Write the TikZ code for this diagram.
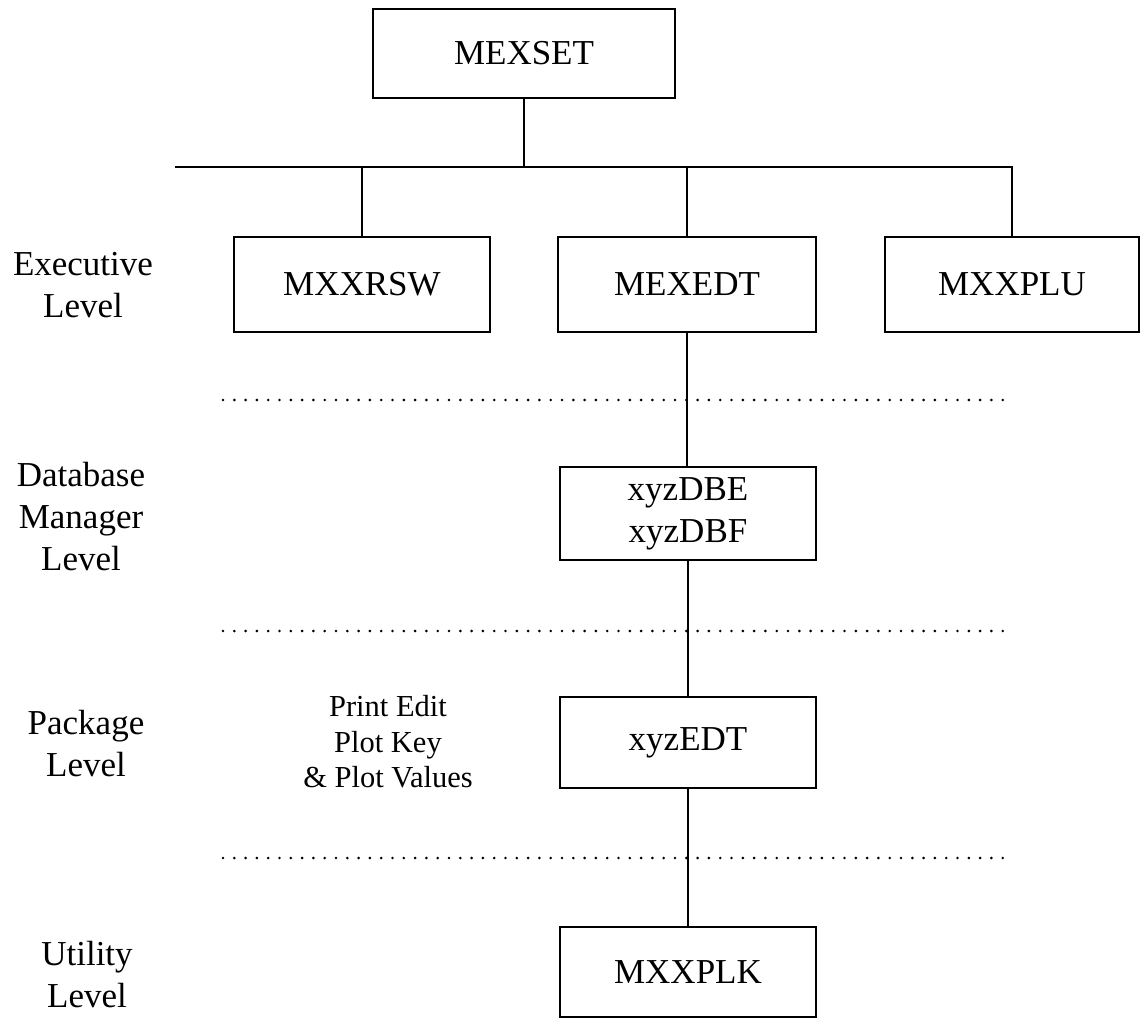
\documentclass[tikz,border=0pt]{standalone}
\usepackage{fontspec}
\setmainfont{Liberation Serif}
\begin{document}
\begin{tikzpicture}[x=1pt,y=-1pt,
  box/.style={draw, line width=1.8pt, inner sep=0pt, minimum width=256pt, minimum height=92pt, font=\fontsize{35}{42}\selectfont, align=center},
  lvl/.style={align=center, font=\fontsize{35}{42}\selectfont, inner sep=0pt},
  note/.style={align=center, font=\fontsize{30.5}{35.5}\selectfont, inner sep=0pt},
  conn/.style={line width=1.3pt},
  dotline/.style={line width=2.9pt, line cap=round, dash pattern=on 0pt off 11.3pt}]
\useasboundingbox (0,0) rectangle (1140,1019);

% boxes
\node[box, minimum width=302pt, minimum height=89pt] (mexset) at (524,53.5) {MEXSET};
\node[box, minimum height=95pt] (mxxrsw) at (362,284.5) {MXXRSW};
\node[box, minimum width=258pt, minimum height=95pt] (mexedt) at (687,284.5) {MEXEDT};
\node[box, minimum width=254pt, minimum height=95pt] (mxxplu) at (1012,284.5) {MXXPLU};
\node[box, minimum height=93pt] (db) at (688,513.5) {xyzDBE\\xyzDBF};
\node[box, minimum height=91pt] (edt) at (688,742.5) {xyzEDT};
\node[box, minimum height=90pt] (plk) at (688,972) {MXXPLK};

% level labels
\node[lvl] (l1) at (83,285) {Executive\\Level};
\node[lvl] (l2) at (81,517) {Database\\Manager\\Level};
\node[lvl] (l3) at (86,744) {Package\\Level};
\node[lvl] (l4) at (87,975) {Utility\\Level};
\node[note] (pe) at (388,742) {Print Edit\\Plot Key\\\& Plot Values};

% tree connectors
\coordinate (hl) at (175,167);
\coordinate (hr) at (1012,167);
\coordinate (hm) at (524,167);
\draw[conn] (hl) -- (hr) -- (mxxplu.north);
\draw[conn] (mexset.south) -- (hm);
\draw[conn] (mxxrsw.north |- hl) -- (mxxrsw.north);
\draw[conn] (mexedt.north |- hl) -- (mexedt.north);
\draw[conn] (mexedt.south) -- (mexedt.south |- db.north);
\draw[conn] (db.south) -- (edt.north);
\draw[conn] (edt.south) -- (plk.north);

% dotted level separators
\coordinate (d1a) at (223,400); \coordinate (d1b) at (1008,400);
\coordinate (d2a) at (223,631); \coordinate (d2b) at (1008,631);
\coordinate (d3a) at (223,858); \coordinate (d3b) at (1008,858);
\draw[dotline] (d1a) -- (d1b);
\draw[dotline] (d2a) -- (d2b);
\draw[dotline] (d3a) -- (d3b);
\end{tikzpicture}
\end{document}
